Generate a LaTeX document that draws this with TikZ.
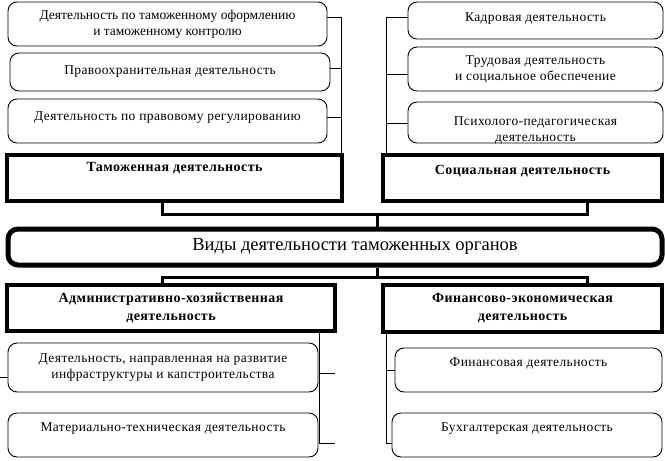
\documentclass[tikz,border=0pt]{standalone}
\usepackage{fontspec}
\setmainfont{Liberation Serif}
\newfontfamily\spaced[LetterSpace=3]{Liberation Serif}
\newfontfamily\spacedbf[LetterSpace=3]{Liberation Serif Bold}

\tikzset{
  softbox/.style={draw, rounded corners=9pt, line width=0.9pt, inner sep=0pt, align=center, font=\spaced\fontsize{13.5}{16}\selectfont},
  hardbox/.style={draw, line width=3.5pt, inner sep=0pt, align=center, font=\spacedbf\fontsize{14}{18}\selectfont},
  mainbox/.style={draw, line width=5pt, rounded corners=10pt, inner sep=0pt, font=\fontsize{18.5}{21}\selectfont},
  rail/.style={line width=0.9pt},
  bus/.style={line width=3pt}
}

\begin{document}
\begin{tikzpicture}[x=1pt,y=-1pt]
\useasboundingbox (0,0) rectangle (665,461);

\node[softbox, font=\fontsize{13.5}{16}\selectfont, minimum width=319, minimum height=44] (tl1) at (167.5,24) {Деятельность по таможенному оформлению\\и таможенному контролю};
\node[softbox, minimum width=320, minimum height=38] (tl2) at (170,72) {Правоохранительная деятельность};
\node[softbox, minimum width=319, text height=21, text depth=23] (tl3) at (167.5,121) {Деятельность по правовому регулированию};

\node[softbox, minimum width=255, text height=19, text depth=18] (tr1) at (535.5,20.5) {Кадровая деятельность};
\node[softbox, minimum width=255, minimum height=44] (tr2) at (535.5,69) {Трудовая деятельность\\и социальное обеспечение};
\node[softbox, minimum width=255, text height=39, text depth=2] (tr3) at (535.5,122.5) {Психолого-педагогическая\\деятельность};

\node[hardbox, minimum width=335, text height=16, text depth=30] (tam) at (174.5,178) {Таможенная деятельность};
\node[hardbox, minimum width=279, text height=19, text depth=27] (soc) at (522.5,178) {Социальная деятельность};

\node[mainbox, minimum width=654, text height=21, text depth=15] (vidy) at (335,247) {\hspace*{40pt}Виды деятельности таможенных органов};

\node[hardbox, minimum width=328, minimum height=46] (adm) at (171,308) {Административно-хозяйственная\\деятельность};
\node[hardbox, minimum width=279, minimum height=47] (fin) at (522.5,308.5) {Финансово-экономическая\\деятельность};

\node[softbox, minimum width=310, minimum height=49] (bl1) at (163,367.5) {Деятельность, направленная на развитие\\инфраструктуры и капстроительства};
\node[softbox, minimum width=310, text height=18, text depth=26] (bl2) at (163,435) {Материально-техническая деятельность};
\node[softbox, minimum width=267, text height=18, text depth=26] (br1) at (528.5,370) {Финансовая деятельность};
\node[softbox, minimum width=270, text height=18, text depth=26] (br2) at (527,435) {Бухгалтерская деятельность};

\coordinate (l1) at (341,17);
\coordinate (l2) at (341,68);
\coordinate (l3) at (341,117);
\coordinate (r1) at (386,17);
\coordinate (r2) at (386,74);
\coordinate (r3) at (386,123);
\draw[rail] (l1 -| tl1.east) -- (l1) -- (l1 |- tam.north);
\draw[rail] (l2 -| tl2.east) -- (l2);
\draw[rail] (l3 -| tl3.east) -- (l3);
\draw[rail] (r1 -| tr1.west) -- (r1) -- (r1 |- soc.north);
\draw[rail] (r2 -| tr2.west) -- (r2);
\draw[rail] (r3 -| tr3.west) -- (r3);

\coordinate (u1) at (162,214);
\coordinate (u2) at (587,214);
\coordinate (uc) at (377,214);
\coordinate (d1) at (162,277);
\coordinate (d2) at (587,277);
\coordinate (dc) at (377,277);
\draw[bus] (u1 |- tam.south) -- (u1) -- (u2) -- (u2 |- soc.south);
\draw[bus] (uc) -- (uc |- vidy.north);
\draw[bus] (dc |- vidy.south) -- (dc);
\draw[bus] (d1 |- adm.north) -- (d1) -- (d2) -- (d2 |- fin.north);

\coordinate (p1) at (319,373);
\coordinate (p2) at (319,443);
\coordinate (p1e) at (335,373);
\coordinate (p2e) at (335,443);
\coordinate (q1) at (386,370);
\coordinate (q2) at (386,443);
\coordinate (tick) at (0,377);
\draw[rail] (p1 |- adm.south) -- (p2) -- (p2e);
\draw[rail] (p1) -- (p1e);
\draw[rail] (q1 |- fin.south) -- (q2) -- (q2 -| br2.west);
\draw[rail] (q1) -- (q1 -| br1.west);
\draw[rail] (tick) -- (tick -| bl1.west);

\end{tikzpicture}
\end{document}
